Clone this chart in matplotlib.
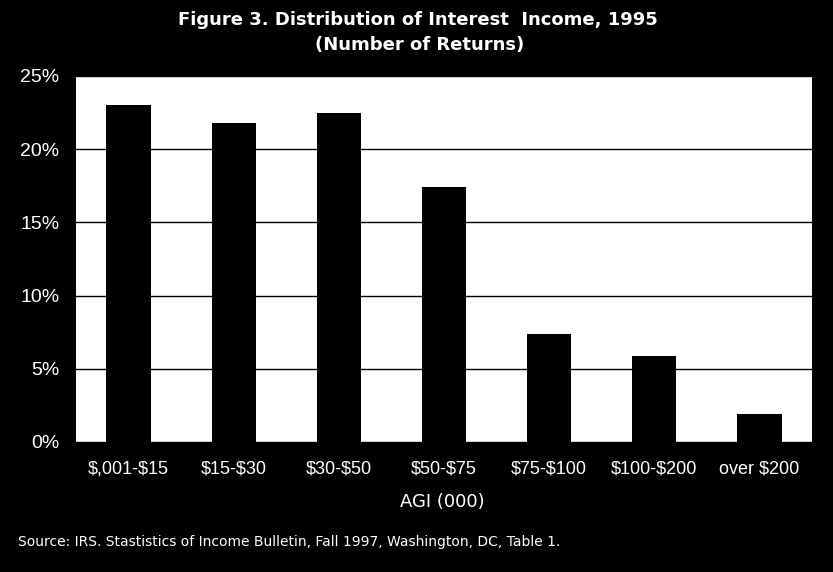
import matplotlib
matplotlib.use("Agg")
import matplotlib.pyplot as plt

categories = ["$,001-$15", "$15-$30", "$30-$50", "$50-$75", "$75-$100", "$100-$200", "over $200"]
values = [23.0, 21.8, 22.5, 17.4, 7.4, 5.9, 1.9]
yticks = [0, 5, 10, 15, 20, 25]
ytick_labels = ["0%", "5%", "10%", "15%", "20%", "25%"]

plt.rcParams['font.family'] = ['Liberation Sans', 'DejaVu Sans']
plt.rcParams['text.parse_math'] = False

fig = plt.figure(figsize=(8.33, 5.72), dpi=100, facecolor='black')
ax = fig.add_axes([76/833, 1 - 442/572, (812-76)/833, (442-76)/572])
ax.set_facecolor('white')

x = list(range(len(categories)))
ax.bar(x, values, width=0.42, color='black', zorder=3)
ax.set_xlim(-0.5, len(categories) - 0.5)
ax.set_ylim(0, 25)
ax.set_yticks(yticks)
ax.set_yticklabels(ytick_labels, color='white', fontsize=14)
ax.set_xticks(x)
ax.set_xticklabels(categories, color='white', fontsize=13)
ax.tick_params(axis='both', length=0)
ax.tick_params(axis='y', pad=12)
ax.tick_params(axis='x', pad=13)
ax.yaxis.grid(True, color='black', linewidth=1.0, zorder=1)
for s in ax.spines.values():
    s.set_visible(False)

fig.text(418/833, 1 - 20/572, "Figure 3. Distribution of Interest  Income, 1995",
         color='white', fontsize=13, fontweight='bold', family=['DejaVu Sans'],
         ha='center', va='center')
fig.text(420/833, 1 - 45/572, "(Number of Returns)",
         color='white', fontsize=13, fontweight='bold', family=['DejaVu Sans'],
         ha='center', va='center')
fig.text(442/833, 1 - 502/572, "AGI (000)", color='white', fontsize=13,
         family=['DejaVu Sans'], ha='center', va='center')
fig.text(18/833, 1 - 542/572,
         "Source: IRS. Stastistics of Income Bulletin, Fall 1997, Washington, DC, Table 1.",
         color='white', fontsize=10, family=['DejaVu Sans'], ha='left', va='center')

fig.savefig("out.png", dpi=100, facecolor='black')
